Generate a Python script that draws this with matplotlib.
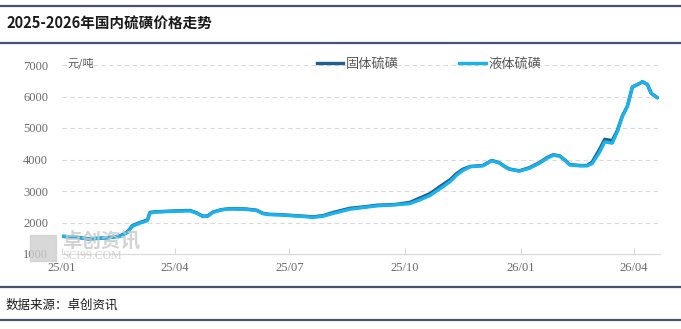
import matplotlib
matplotlib.use("Agg")
import matplotlib.pyplot as plt
import pandas as pd
from matplotlib.lines import Line2D

plt.rcParams['font.family'] = ['Noto Sans CJK SC', 'DejaVu Sans']

title = "2025-2026年国内硫磺价格走势"
source = "数据来源：卓创资讯"
unit = "元/吨"
series_names = ["固体硫磺", "液体硫磺"]

day_offsets = [0, 10, 21, 30, 40, 46, 52, 56, 62, 68, 70, 74, 86, 98, 102, 107, 112, 116,
               120, 127, 134, 146, 155, 160, 165, 173, 181, 189, 200, 208, 216, 229, 241,
               251, 265, 277, 285, 293, 303, 309, 314, 319, 325, 335, 342, 348, 352, 356,
               364, 372, 380, 386, 391, 396, 401, 404, 412, 418, 422, 428, 432, 438, 442,
               446, 450, 454, 460, 462, 466, 469, 474]
liquid = [1560, 1540, 1480, 1500, 1530, 1560, 1680, 1880, 1980, 2060, 2300, 2330, 2350,
          2370, 2370, 2300, 2190, 2200, 2320, 2400, 2430, 2420, 2380, 2280, 2250, 2240,
          2220, 2200, 2165, 2200, 2290, 2420, 2480, 2530, 2560, 2600, 2720, 2860, 3130,
          3300, 3500, 3650, 3770, 3800, 3960, 3890, 3780, 3690, 3630, 3720, 3880, 4040,
          4130, 4110, 3950, 3830, 3800, 3800, 3870, 4240, 4560, 4520, 4880, 5360, 5680,
          6300, 6420, 6470, 6380, 6100, 5960]
solid = [1560, 1540, 1480, 1500, 1530, 1570, 1700, 1900, 2000, 2080, 2320, 2340, 2360,
         2380, 2380, 2310, 2200, 2210, 2330, 2410, 2440, 2430, 2390, 2290, 2260, 2250,
         2230, 2210, 2180, 2220, 2320, 2450, 2500, 2550, 2570, 2640, 2780, 2920, 3200,
         3360, 3550, 3690, 3780, 3810, 3970, 3900, 3790, 3700, 3640, 3740, 3900, 4060,
         4150, 4120, 3960, 3840, 3810, 3810, 3920, 4330, 4640, 4600, 4920, 5380, 5690,
         6300, 6420, 6470, 6380, 6100, 5960]

tick_dates = ["2025-01-01", "2025-04-01", "2025-07-01", "2025-10-01", "2026-01-01", "2026-04-01"]
tick_labels = ["25/01", "25/04", "25/07", "25/10", "26/01", "26/04"]
y_ticks = [1000, 2000, 3000, 4000, 5000, 6000, 7000]

dates = pd.Timestamp("2025-01-01") + pd.to_timedelta(day_offsets, unit="D")

fig = plt.figure(figsize=(6.81, 3.29), dpi=100)
W, H = 681, 329
ax = fig.add_axes([62 / W, 1 - 254 / H, (660 - 62) / W, (254 - 65) / H])

num_font = ['Liberation Serif', 'DejaVu Serif']
gray = '#6b6b6b'

ax.plot(dates, solid, color='#1f5f8f', lw=2.4, solid_capstyle='round', zorder=3)
ax.plot(dates, liquid, color='#19b2ea', lw=2.4, solid_capstyle='round', zorder=4)

ax.set_ylim(1000, 7000)
ax.set_xlim(pd.Timestamp("2025-01-01"), pd.Timestamp("2026-04-22"))
ax.set_yticks(y_ticks)
ax.set_yticklabels([str(v) for v in y_ticks], family=num_font, color=gray, fontsize=9)
ax.set_xticks(pd.to_datetime(tick_dates))
ax.set_xticklabels(tick_labels, family=num_font, color=gray, fontsize=9)
ax.tick_params(axis='y', length=0, pad=10)
ax.tick_params(axis='x', length=4, color='#d9d9d9', direction='in', pad=6)
for y in y_ticks[1:]:
    ax.axhline(y, color='#d9d9d9', lw=0.8, ls=(0, (4, 3)), zorder=1)
for s in ['top', 'right', 'left']:
    ax.spines[s].set_visible(False)
ax.spines['bottom'].set_color('#d9d9d9')
ax.spines['bottom'].set_linewidth(0.8)

# unit label
fig.text(68 / W, 1 - 63 / H, unit, fontsize=8, color='#595959', va='center', ha='left')

# legend
handles = [Line2D([0], [0], color='#1f5f8f', lw=2.4), Line2D([0], [0], color='#19b2ea', lw=2.4)]
leg = fig.legend(handles, series_names, loc='center', bbox_to_anchor=(429 / W, 1 - 64 / H),
                 ncol=2, frameon=False, fontsize=9.5, handlelength=2.0, handletextpad=0.2,
                 columnspacing=4.6)
for t in leg.get_texts():
    t.set_color('#595959')

# watermark
fig.text(62 / W, 1 - 241 / H, "卓创资讯", fontsize=14, color='#c8c8c8', fontweight='bold',
         va='center', ha='left', alpha=0.8, zorder=0)
fig.text(62 / W, 1 - 256 / H, "SCI99.COM", fontsize=8.5, color='#c8c8c8', family=num_font,
         va='center', ha='left', alpha=0.8, zorder=0)
fig.patches.append(plt.Rectangle((30 / W, 1 - 261 / H), 26 / W, 26 / H, transform=fig.transFigure,
                                 color='#cfcfcf', alpha=0.8, zorder=0))

# header & footer
fig.text(6 / W, 1 - 24 / H, title, fontsize=10.5, fontweight='bold', color='#1a1a1a',
         va='center', ha='left')
fig.text(6 / W, 1 - 305 / H, source, fontsize=9, color='#1a1a1a', va='center', ha='left')
for yy in [6, 42.5, 287, 320]:
    fig.add_artist(Line2D([0, 1], [1 - yy / H, 1 - yy / H], transform=fig.transFigure,
                          color='#47536f', lw=1.6))

fig.savefig("out.png", dpi=100)
